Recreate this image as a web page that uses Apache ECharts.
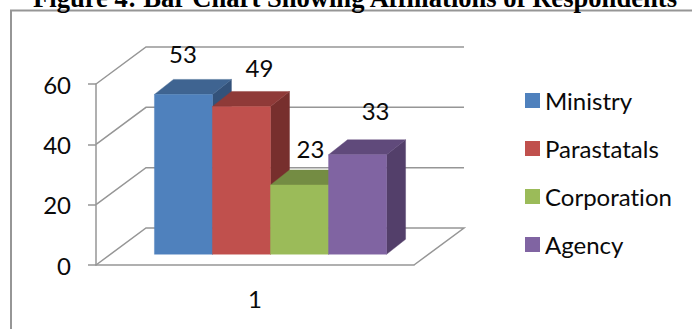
<!DOCTYPE html>
<html>
<head>
<meta charset="utf-8">
<style>html,body{margin:0;padding:0;background:#fff}#chart{width:692px;height:329px}#chart text{font-variant-ligatures:none}</style>
<script src="https://cdn.jsdelivr.net/npm/echarts@6/dist/echarts.min.js"></script>
</head>
<body>
<div id="chart"></div>
<script>
// Chart content
const chartTitle = 'Figure 4: Bar Chart Showing Affiliations of Respondents';
const categories = ['1'];
const seriesNames = ['Ministry', 'Parastatals', 'Corporation', 'Agency'];
const seriesValues = [53, 49, 23, 33];
const yTicks = [0, 20, 40, 60];

// Front, top and side shades of each column
const frontColors = ['#4F81BD', '#C0504D', '#9BBB59', '#8064A2'];
const topColors = ['#3F6491', '#8F3A38', '#748C43', '#604A7B'];
const sideColors = ['#33527A', '#772F2D', '#5F7337', '#533F6A'];

// Oblique projection of the plot box
const WALL = [50, -37];        // floor depth from front edge to back wall
const BAR_FRONT = [15.5, -10.7]; // where column fronts stand on the floor
const BAR_DEPTH = [19, -15];   // depth of a column
const BAR_BAND = 0.1825;       // column width as a share of the category band
const AXIS_GREY = '#969696';
const FONT = 'Lato';

// Nudges that place each value label beside its column
const labelNudge = [[-19.5, -25.5], [-1, -23.5], [-8, -21], [-1, -29.5]];

function renderWall(params, api) {
  const v = api.value(1);
  const p = api.coord([0, v]);
  const left = p[0] - api.size([1, 0])[0] / 2;
  const right = left + api.size([1, 0])[0];
  const pts = [[left, p[1]], [left + WALL[0], p[1] + WALL[1]], [right + WALL[0], p[1] + WALL[1]]];
  if (v === 0) pts.push([right, p[1]]);
  return {
    type: 'polyline',
    shape: { points: pts },
    style: { fill: 'none', stroke: AXIS_GREY, lineWidth: 1.5 },
    silent: true
  };
}

function makeColumnRenderer(i) {
  return function (params, api) {
    const band = api.size([1, 0])[0];
    const w = band * BAR_BAND;
    const top = api.coord([0, api.value(1)]);
    const base = api.coord([0, 0]);
    const x0 = top[0] + (i - seriesValues.length / 2) * w + BAR_FRONT[0];
    const x1 = x0 + w;
    const yT = top[1] + BAR_FRONT[1];
    const yB = base[1] + BAR_FRONT[1];
    const dx = BAR_DEPTH[0], dy = BAR_DEPTH[1];
    const poly = (points, fill) => ({
      type: 'polygon', shape: { points }, style: { fill, stroke: fill, lineWidth: 0.4 }
    });
    return {
      type: 'group',
      children: [
        poly([[x1, yT], [x1 + dx, yT + dy], [x1 + dx, yB + dy], [x1, yB]], sideColors[i]),
        poly([[x0, yT], [x0 + dx, yT + dy], [x1 + dx, yT + dy], [x1, yT]], topColors[i]),
        poly([[x0, yT], [x1, yT], [x1, yB], [x0, yB]], frontColors[i]),
        {
          type: 'text',
          z2: 50,
          style: {
            text: String(api.value(1)),
            x: (x0 + x1) / 2 + labelNudge[i][0] + dx,
            y: yT + dy + labelNudge[i][1],
            align: 'center',
            verticalAlign: 'middle',
            fill: '#0a0a0a',
            font: '24px ' + FONT
          }
        }
      ]
    };
  };
}

const chart = echarts.init(document.getElementById('chart'), null, { renderer: 'svg' });
chart.setOption({
  animation: false,
  backgroundColor: '#fff',
  title: {
    text: chartTitle,
    left: 28,
    top: -21,
    textStyle: { fontFamily: 'Liberation Serif', fontWeight: 'bold', fontSize: 26.6, color: '#000' }
  },
  grid: { left: 96, right: 278, top: 84, bottom: 64 },
  legend: {
    orient: 'vertical',
    left: 520,
    top: 82,
    data: seriesNames,
    icon: 'rect',
    itemWidth: 15,
    itemHeight: 15,
    itemGap: 21,
    textStyle: { fontFamily: FONT, fontSize: 24, color: '#0a0a0a', lineHeight: 27 }
  },
  xAxis: {
    type: 'category',
    data: categories,
    axisLine: { lineStyle: { color: AXIS_GREY, width: 1.5 } },
    axisTick: { length: 8, lineStyle: { color: AXIS_GREY, width: 1.5 } },
    axisLabel: { fontFamily: FONT, fontSize: 24, color: '#0a0a0a', margin: 21 },
    splitLine: { show: false }
  },
  yAxis: {
    type: 'value',
    min: 0,
    max: 60,
    interval: 20,
    axisLine: { show: true, lineStyle: { color: AXIS_GREY, width: 1.5 } },
    axisTick: { show: true, length: 8, lineStyle: { color: AXIS_GREY, width: 1.5 } },
    axisLabel: { fontFamily: FONT, fontSize: 24, color: '#0a0a0a', margin: 25 },
    splitLine: { show: false }
  },
  graphic: [{
    // Outer chart frame, running off the right and bottom edges
    type: 'rect',
    shape: { x: 11, y: 10.5, width: 800, height: 500 },
    style: { fill: 'none', stroke: AXIS_GREY, lineWidth: 2 },
    silent: true,
    z: 0
  }],
  series: [
    {
      name: 'walls',
      type: 'custom',
      coordinateSystem: 'cartesian2d',
      renderItem: renderWall,
      data: yTicks.map(t => [0, t]),
      encode: { x: 0, y: 1 },
      silent: true,
      z: 1
    }
  ].concat(seriesNames.map((name, i) => ({
    name,
    type: 'custom',
    coordinateSystem: 'cartesian2d',
    renderItem: makeColumnRenderer(i),
    data: [[0, seriesValues[i]]],
    encode: { x: 0, y: 1 },
    itemStyle: { color: frontColors[i] },
    clip: false,
    z: 2 + i
  })))
});
</script>
</body>
</html>
